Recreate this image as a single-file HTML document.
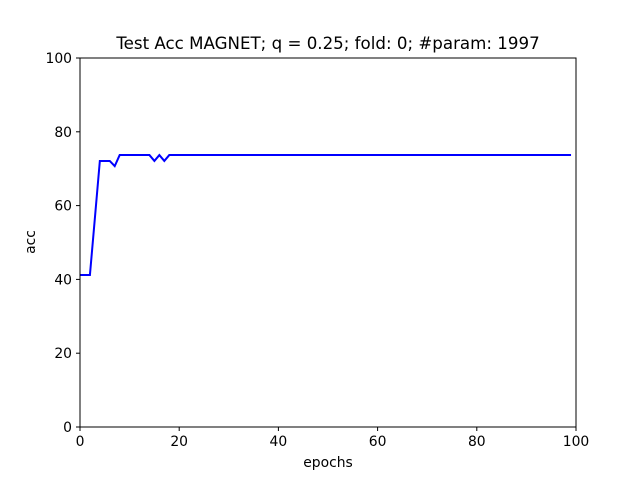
<!DOCTYPE html>
<html><head><meta charset="utf-8"><style>
body{margin:0;background:#fff}
svg{display:block;font-family:"DejaVu Sans","Liberation Sans",sans-serif}
</style></head><body>
<svg id="chart" width="640" height="480">
<rect width="640" height="480" fill="#fff"/>
<text x="328" y="49" font-size="16.67" text-anchor="middle">Test Acc MAGNET; q = 0.25; fold: 0; #param: 1997</text>
<g id="ticks"></g>
<path id="line" fill="none" stroke="#0000ff" stroke-width="2"/>
<rect x="80" y="58" width="496" height="369" fill="none" stroke="#000" stroke-width="1"/>
<text x="328" y="467" font-size="13.9" text-anchor="middle">epochs</text>
<text x="35" y="242" font-size="13.9" text-anchor="middle" transform="rotate(-90 35 242)">acc</text>
</svg>
<script>
const accValues=[41.2,41.2,41.2,56.6,72.1,72.1,72.1,70.7,73.7,73.7,73.7,73.7,73.7,73.7,73.7,72.1,73.7,72.1].concat(new Array(82).fill(73.7));
const xTicks=[0,20,40,60,80,100];
const yTicks=[0,20,40,60,80,100];
const X=v=>80+v*4.96, Y=v=>427-v*3.69;
const ns="http://www.w3.org/2000/svg";
const g=document.getElementById('ticks');
function mk(t,a){const e=document.createElementNS(ns,t);for(const k in a)e.setAttribute(k,a[k]);g.appendChild(e);return e;}
xTicks.forEach(v=>{
 const l=mk('line',{x1:X(v),x2:X(v),y1:427,y2:431,stroke:'#000'});
 
 
 const t=mk('text',{x:X(v),y:446,'font-size':13.9,'text-anchor':'middle'});t.textContent=v;
 
 
});
yTicks.forEach(v=>{
 const l=mk('line',{x1:76,x2:80,y1:Y(v),y2:Y(v),stroke:'#000'});
 
 
 const t=mk('text',{x:72,y:Y(v)+5,'font-size':13.9,'text-anchor':'end'});t.textContent=v;
 
 
});
document.getElementById('line').setAttribute('d',accValues.map((v,i)=>(i?'L':'M')+X(i)+','+Y(v)).join(''));
</script>
</body></html>
